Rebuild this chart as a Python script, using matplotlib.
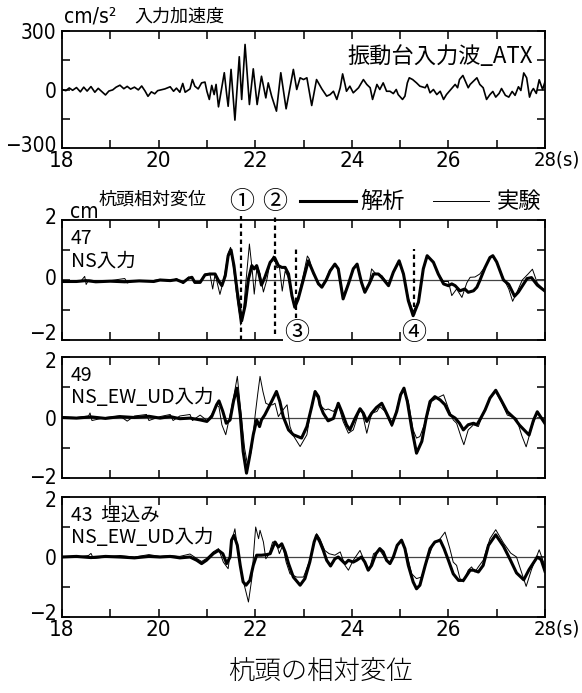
import matplotlib
matplotlib.use('Agg')
import matplotlib.pyplot as plt
import matplotlib.lines as mlines
from matplotlib import font_manager as fm
from matplotlib.transforms import ScaledTranslation

# ---- data ----
# input acceleration (cm/s2)
acc_t = [18.0, 18.08, 18.15, 18.22, 18.3, 18.38, 18.45, 18.52, 18.6, 18.68, 18.75, 18.82, 18.9, 18.97,
         19.05, 19.12, 19.2, 19.28, 19.35, 19.42, 19.5, 19.58, 19.65, 19.72, 19.78, 19.85, 19.92, 19.98,
         20.03, 20.13, 20.24, 20.31, 20.37, 20.44, 20.5, 20.55, 20.65, 20.7, 20.75, 20.82, 20.89, 20.96,
         21.0, 21.05, 21.1, 21.15, 21.19, 21.24, 21.31, 21.36, 21.41, 21.44, 21.5, 21.58, 21.67, 21.72,
         21.79, 21.88, 21.96, 22.04, 22.13, 22.22, 22.27, 22.34, 22.44, 22.53, 22.64, 22.79, 22.86, 22.93,
         23.0, 23.07, 23.17, 23.27, 23.38, 23.48, 23.55, 23.62, 23.69, 23.76, 23.81, 23.86, 23.89, 23.96,
         24.03, 24.14, 24.24, 24.31, 24.38, 24.43, 24.52, 24.58, 24.65, 24.72, 24.79, 24.86, 24.92, 24.96,
         25.05, 25.1, 25.15, 25.19, 25.26, 25.34, 25.41, 25.52, 25.56, 25.62, 25.69, 25.76, 25.83, 25.9,
         25.96, 26.05, 26.14, 26.19, 26.23, 26.3, 26.38, 26.41, 26.45, 26.52, 26.59, 26.65, 26.72, 26.79,
         26.86, 26.92, 26.98, 27.05, 27.1, 27.18, 27.25, 27.32, 27.38, 27.45, 27.5, 27.56, 27.62, 27.68,
         27.72, 27.76, 27.82, 27.88, 27.95, 28.0]
acc_v = [0, -6, 8, -4, 10, -12, 12, -8, 15, -14, 6, -10, -28, -8,
         -2, 12, 22, 4, 16, 2, 12, -2, 18, -8, -35, -12, -22, -6,
         -3, 3, 14, -9, 7, -14, 31, -14, 3, 51, 17, 3, 34, 38,
         -9, -51, 21, -26, 26, -89, 14, 86, -26, -86, 103, -157, 168, -51,
         231, -77, 106, -77, 68, -43, 34, -34, -111, 86, -99, 103, 0, 60,
         51, 60, -82, 51, 3, -34, -26, -9, -51, 9, 80, 26, -9, 17,
         -17, 9, 51, 26, 9, -51, 26, 0, 34, -9, -9, -21, 0, -26,
         -51, -34, 34, 60, 51, 34, 17, 9, 26, -17, 0, -26, -9, -51,
         -26, 0, 26, 9, 51, 72, 26, 9, 26, 43, 60, 26, 9, -51,
         -26, -10, -39, -20, 5, -30, -39, -10, -30, 14, -5, 85, 60, -39,
         -10, 5, -20, 50, 0, 40]

# pile-head relative displacement (cm): analysis (thick) / experiment (thin)
p47_ana_t = [18.0, 18.3, 18.5, 18.7, 19.0, 19.3, 19.6, 19.9, 20.03, 20.24, 20.37, 20.51, 20.62, 20.69,
             20.75, 20.86, 20.96, 21.06, 21.17, 21.24, 21.31, 21.38, 21.44, 21.5, 21.56, 21.63, 21.72,
             21.79, 21.86, 21.93, 21.98, 22.03, 22.08, 22.13, 22.2, 22.31, 22.4, 22.48, 22.55, 22.62,
             22.69, 22.76, 22.82, 22.89, 23.0, 23.1, 23.2, 23.31, 23.38, 23.47, 23.55, 23.65, 23.72,
             23.82, 23.93, 24.03, 24.11, 24.2, 24.27, 24.36, 24.45, 24.55, 24.62, 24.76, 24.86, 24.98,
             25.07, 25.17, 25.27, 25.38, 25.48, 25.56, 25.69, 25.79, 25.9, 26.0, 26.07, 26.14, 26.24,
             26.34, 26.41, 26.52, 26.59, 26.65, 26.76, 26.86, 26.92, 27.0, 27.14, 27.25, 27.37, 27.45,
             27.53, 27.63, 27.72, 27.84, 28.0]
p47_ana_v = [-0.05, -0.05, -0.02, -0.06, -0.04, -0.06, -0.03, -0.05, 0.0, -0.02, 0.01, -0.08, 0.06, 0.09,
             -0.08, -0.08, 0.17, 0.2, 0.2, -0.02, -0.19, 0.14, 0.81, 1.0, 0.48, -0.41, -1.36,
             -0.86, 0.03, 0.48, 0.37, 0.48, 0.2, -0.17, 0.09, 0.59, 0.75, 0.48, 0.42, 0.42,
             0.2, -0.52, -0.91, -0.63, 0.03, 0.64, 0.26, -0.13, -0.24, 0.0, 0.3, 0.53, 0.37,
             -0.63, -0.13, 0.37, 0.53, -0.08, -0.41, -0.13, 0.2, 0.2, 0.09, -0.19, 0.26, 0.64,
             0.2, -0.69, -1.19, -0.74, 0.37, 0.81, 0.59, 0.2, -0.13, -0.19, -0.13, -0.19, -0.36,
             -0.3, -0.41, -0.36, -0.24, -0.02, 0.42, 0.75, 0.81, 0.6, 0.0, -0.15, -0.54, -0.4,
             -0.2, 0.05, 0.08, -0.17, -0.37]
p47_exp_t = [18.0, 18.2, 18.4, 18.47, 18.5, 18.55, 18.8, 19.0, 19.3, 19.35, 19.5, 19.8, 20.03, 20.24,
             20.37, 20.51, 20.62, 20.69, 20.75, 20.86, 20.96, 21.06, 21.12, 21.17, 21.27, 21.33, 21.38,
             21.44, 21.49, 21.56, 21.63, 21.7, 21.75, 21.8, 21.88, 21.94, 21.98, 22.04, 22.1, 22.17,
             22.24, 22.31, 22.38, 22.45, 22.5, 22.56, 22.62, 22.68, 22.76, 22.82, 22.9, 23.0, 23.08,
             23.12, 23.2, 23.31, 23.38, 23.47, 23.55, 23.65, 23.72, 23.82, 23.93, 24.03, 24.11, 24.2,
             24.27, 24.36, 24.41, 24.5, 24.62, 24.76, 24.86, 24.98, 25.07, 25.17, 25.27, 25.38, 25.48,
             25.56, 25.69, 25.79, 25.9, 26.0, 26.07, 26.17, 26.28, 26.38, 26.45, 26.55, 26.65, 26.76,
             26.9, 27.0, 27.14, 27.25, 27.33, 27.42, 27.53, 27.65, 27.74, 27.84, 28.0]
p47_exp_v = [-0.03, -0.05, -0.02, 0.12, -0.15, 0.0, -0.04, -0.02, 0.05, -0.1, -0.02, -0.04, 0.02, -0.05,
             0.05, -0.12, 0.1, 0.05, -0.1, -0.05, 0.2, 0.22, -0.3, 0.2, -0.48, -0.1, 0.3,
             0.9, 1.09, 0.3, -0.7, -1.5, -1.2, -0.2, 1.2, 0.3, -0.47, 0.48, 0.2, -0.4,
             0.0, 0.6, 0.8, 0.4, 0.45, -0.37, 0.3, 0.1, -0.5, -0.85, -0.5, 0.2, 0.8,
             0.7, 0.2, -0.1, -0.2, 0.05, 0.35, 0.5, 0.4, -0.55, -0.1, 0.4, 0.5, -0.05,
             -0.38, -0.1, 0.37, 0.2, 0.15, -0.15, 0.25, 0.6, 0.2, -0.6, -1.05, -0.7, 0.35,
             0.78, 0.6, 0.2, -0.05, -0.05, -0.52, -0.3, -0.58, -0.1, 0.09, 0.1, 0.2, 0.45,
             0.8, 0.6, 0.05, -0.3, -0.71, -0.4, 0.0, 0.2, 0.36, -0.1, -0.37]

p49_ana_t = [18.0, 18.3, 18.6, 18.9, 19.2, 19.5, 19.8, 20.03, 20.24, 20.44, 20.65, 20.86, 21.0, 21.1,
             21.2, 21.25, 21.33, 21.4, 21.48, 21.55, 21.62, 21.69, 21.75, 21.82, 21.89, 21.96, 22.03,
             22.09, 22.13, 22.2, 22.27, 22.34, 22.44, 22.51, 22.58, 22.69, 22.79, 22.96, 23.07, 23.17,
             23.24, 23.31, 23.34, 23.41, 23.51, 23.62, 23.72, 23.79, 23.89, 23.96, 24.07, 24.17, 24.24,
             24.31, 24.41, 24.51, 24.62, 24.72, 24.83, 24.93, 25.01, 25.08, 25.15, 25.24, 25.34, 25.45,
             25.54, 25.62, 25.72, 25.83, 25.93, 26.03, 26.14, 26.23, 26.31, 26.41, 26.52, 26.59, 26.65,
             26.76, 26.86, 26.98, 27.1, 27.22, 27.37, 27.47, 27.67, 27.76, 27.84, 28.0]
p49_ana_v = [0.0, -0.02, 0.02, -0.03, 0.03, 0.0, 0.04, -0.02, 0.03, -0.04, -0.02, -0.08, -0.13, 0.03,
             0.42, 0.55, 0.2, -0.19, -0.08, 0.53, 0.97, 0.09, -1.12, -1.84, -1.24, -0.57, -0.08,
             -0.3, -0.08, 0.09, 0.31, 0.53, 0.86, 0.53, 0.03, -0.41, -0.57, -0.68, -0.3, 0.36,
             0.86, 0.69, 0.42, 0.14, -0.11, -0.03, 0.47, 0.2, -0.24, -0.41, -0.02, 0.29, 0.14,
             -0.13, 0.14, 0.33, 0.47, 0.14, -0.24, 0.2, 0.75, 0.97, 0.53, -0.35, -1.18, -0.79,
             -0.02, 0.53, 0.69, 0.58, 0.42, 0.09, -0.02, -0.19, -0.41, -0.24, -0.19, -0.24, -0.08,
             0.25, 0.64, 0.9, 0.55, 0.19, -0.03, -0.25, -0.58, -0.1, 0.19, -0.2]
p49_exp_t = [18.0, 18.3, 18.55, 18.58, 18.62, 18.9, 19.2, 19.35, 19.5, 19.75, 19.8, 20.03, 20.24, 20.3,
             20.44, 20.65, 20.7, 20.86, 21.0, 21.1, 21.2, 21.25, 21.31, 21.39, 21.48, 21.55, 21.63,
             21.71, 21.78, 21.84, 21.92, 22.0, 22.05, 22.1, 22.16, 22.22, 22.29, 22.36, 22.41, 22.48,
             22.55, 22.66, 22.72, 22.79, 22.93, 23.07, 23.17, 23.24, 23.31, 23.38, 23.45, 23.51, 23.62,
             23.72, 23.82, 23.93, 24.03, 24.14, 24.2, 24.31, 24.41, 24.52, 24.58, 24.69, 24.83, 25.0,
             25.08, 25.17, 25.27, 25.34, 25.41, 25.55, 25.65, 25.76, 25.9, 26.0, 26.1, 26.17, 26.27,
             26.32, 26.41, 26.52, 26.62, 26.72, 26.86, 26.98, 27.1, 27.22, 27.41, 27.52, 27.61, 27.71,
             27.84, 28.0]
p49_exp_v = [0.02, 0.0, 0.05, 0.15, -0.1, 0.0, 0.05, -0.12, 0.05, 0.1, -0.1, 0.03, 0.1, -0.1,
             0.05, 0.1, -0.1, 0.08, -0.1, 0.1, 0.42, 0.35, -0.24, -0.57, 0.09, 0.64, 1.36,
             0.09, -1.01, -1.56, -1.12, 0.09, 0.75, 1.36, 0.86, 0.47, 0.42, 0.42, 0.47, 0.03,
             0.2, 0.42, -0.3, -0.6, -0.96, -0.57, 0.42, 0.8, 0.58, 0.35, 0.25, 0.28, 0.2,
             0.42, -0.13, -0.52, -0.41, 0.14, 0.28, -0.52, 0.14, 0.2, 0.36, 0.2, -0.3, 0.7,
             0.91, 0.53, -0.41, -0.68, -0.63, -0.02, 0.53, 0.64, 0.75, 0.3, -0.08, -0.19, -0.68,
             -0.9, -0.41, -0.24, -0.3, 0.14, 0.64, 0.85, 0.5, 0.08, -0.03, -0.6, -0.97, -0.4,
             0.19, -0.15]

p43_ana_t = [18.0, 18.3, 18.6, 18.9, 19.2, 19.5, 19.8, 20.03, 20.24, 20.44, 20.65, 20.79, 20.89, 20.99,
             21.13, 21.24, 21.33, 21.41, 21.48, 21.51, 21.56, 21.63, 21.69, 21.75, 21.81, 21.89, 21.96,
             22.03, 22.13, 22.24, 22.31, 22.41, 22.48, 22.55, 22.62, 22.69, 22.79, 22.93, 23.03, 23.13,
             23.22, 23.27, 23.34, 23.41, 23.48, 23.56, 23.65, 23.72, 23.79, 23.86, 23.93, 24.03, 24.1,
             24.2, 24.27, 24.34, 24.41, 24.5, 24.58, 24.65, 24.72, 24.79, 24.86, 24.94, 25.03, 25.1,
             25.17, 25.27, 25.34, 25.41, 25.52, 25.62, 25.72, 25.83, 25.91, 26.0, 26.1, 26.21, 26.31,
             26.38, 26.45, 26.52, 26.62, 26.72, 26.83, 26.98, 27.14, 27.28, 27.41, 27.56, 27.67, 27.84,
             27.92, 28.0]
p43_ana_v = [0.0, 0.02, -0.02, 0.02, 0.0, -0.03, 0.02, 0.0, 0.02, -0.03, 0.0, -0.11, -0.22, -0.11,
             0.11, 0.22, 0.11, -0.22, 0.0, 0.56, 0.72, 0.39, -0.28, -0.83, -0.94, -0.78, -0.28,
             0.06, 0.06, 0.08, 0.11, 0.5, 0.33, 0.44, 0.17, -0.22, -0.67, -0.94, -0.72, -0.17,
             0.5, 0.72, 0.5, 0.22, -0.11, -0.3, -0.06, 0.0, -0.11, -0.22, -0.11, -0.17, -0.11,
             0.0, -0.17, -0.44, -0.28, 0.11, 0.28, 0.17, -0.11, -0.22, 0.0, 0.39, 0.56, 0.28,
             -0.28, -0.83, -1.06, -0.94, -0.28, 0.28, 0.5, 0.56, 0.28, -0.11, -0.56, -0.78, -0.78,
             -0.61, -0.44, -0.44, -0.5, -0.28, 0.39, 0.74, 0.36, -0.09, -0.53, -0.76, -0.42, 0.0,
             -0.09, -0.48]
p43_exp_t = [18.0, 18.3, 18.55, 18.6, 18.65, 18.9, 19.2, 19.5, 19.8, 20.03, 20.24, 20.44, 20.65, 20.79,
             20.89, 20.99, 21.13, 21.24, 21.34, 21.44, 21.51, 21.58, 21.65, 21.74, 21.81, 21.86, 21.93,
             21.98, 22.01, 22.07, 22.1, 22.17, 22.22, 22.29, 22.36, 22.43, 22.5, 22.57, 22.64, 22.72,
             22.86, 23.0, 23.13, 23.27, 23.34, 23.44, 23.53, 23.65, 23.76, 23.86, 23.93, 24.03, 24.17,
             24.27, 24.36, 24.45, 24.58, 24.72, 24.8, 24.96, 25.03, 25.14, 25.24, 25.34, 25.44, 25.55,
             25.69, 25.83, 25.93, 26.03, 26.1, 26.17, 26.24, 26.31, 26.41, 26.48, 26.55, 26.62, 26.72,
             26.86, 26.98, 27.14, 27.29, 27.41, 27.61, 27.72, 27.88, 28.0]
p43_exp_v = [0.02, 0.0, 0.05, 0.12, -0.05, 0.0, 0.05, 0.0, 0.08, 0.02, 0.05, 0.02, 0.1, -0.05,
             -0.15, -0.05, 0.17, 0.28, -0.17, -0.39, 0.5, 0.94, 0.06, -0.72, -1.17, -1.5, -0.72,
             0.39, 1.0, 0.61, 0.89, 0.5, -0.06, 0.11, 0.5, 0.5, 0.11, 0.39, -0.17, -0.56,
             -0.67, -0.67, -0.11, 0.78, 0.61, 0.22, 0.11, 0.06, 0.17, -0.28, -0.44, -0.11, 0.22,
             -0.17, -0.44, 0.11, 0.22, -0.11, -0.22, 0.44, 0.59, 0.11, -0.56, -0.72, -0.67, -0.17,
             0.44, 0.61, 0.83, 0.28, -0.17, -0.28, -0.72, -0.83, -0.44, -0.33, -0.5, -0.33, -0.11,
             0.61, 0.91, 0.47, 0.13, 0.0, -0.98, -0.42, 0.24, -0.31]

panels = [
    ('47\nNS入力', p47_ana_t, p47_ana_v, p47_exp_t, p47_exp_v),
    ('49\nNS_EW_UD入力', p49_ana_t, p49_ana_v, p49_exp_t, p49_exp_v),
    ('43  埋込み\nNS_EW_UD入力', p43_ana_t, p43_ana_v, p43_exp_t, p43_exp_v),
]

# marker times on the 47 panel
mark_t = [21.71, 22.41, 22.85, 25.29]


# narrow font for numbers if one is installed
def narrow_font():
    best = None
    for f in fm.fontManager.ttflist:
        if f.style != 'normal' or f.weight not in (400, 'normal', 'regular', 'book'):
            continue
        if f.name == 'Liberation Sans Narrow':
            return f.fname
        if f.name == 'DejaVu Sans' and str(f.stretch) in ('condensed', 'semi-condensed', '300', '400'):
            best = f.fname
    return best


_nf = narrow_font()
JP = ['Noto Sans CJK JP', 'DejaVu Sans']


def num(size):
    if _nf:
        return fm.FontProperties(fname=_nf, size=size)
    return fm.FontProperties(family='DejaVu Sans', size=size)


W, H = 582, 693
fig = plt.figure(figsize=(W / 100, H / 100), dpi=100)
L, R = 62, 545


def px_axes(top, bot):
    return fig.add_axes([L / W, 1 - bot / H, (R - L) / W, (bot - top) / H])


def style(ax, ylim, yt, ylabels, minor, xlabels, lifts=(0, 0, 0)):
    ax.set_xlim(18, 28)
    ax.set_ylim(*ylim)
    for s in ax.spines.values():
        s.set_linewidth(1.3)
    ax.set_xticks(range(18, 29))
    ax.set_yticks(yt)
    ax.set_yticks(minor, minor=True)
    ax.tick_params(which='both', direction='in', top=True, right=True, length=6, width=1.1, pad=2)
    ax.tick_params(axis='y', pad=4)
    ax.set_yticklabels(ylabels, fontproperties=num(15))
    # nudge single labels up/down (pixels) like the reference
    for lb, d in zip(ax.get_yticklabels(), lifts):
        lb.set_transform(lb.get_transform() + ScaledTranslation(0, d / 100, fig.dpi_scale_trans))
    if xlabels:
        labs = [str(v) if v % 2 == 0 and v < 28 else '' for v in range(18, 29)]
        ax.set_xticklabels(labs, fontproperties=num(16))
        ax.annotate('28(s)', xy=(28, 0), xycoords=('data', 'axes fraction'), xytext=(-8.5, -2),
                    textcoords='offset points', ha='left', va='top', fontproperties=num(14.5))
    else:
        ax.set_xticklabels([])


# ---- top: input acceleration ----
ax0 = px_axes(31, 148)
ax0.plot(acc_t, acc_v, color='black', lw=1.2)
style(ax0, (-300, 300), [-300, 0, 300], ['−300', '0', '300'], [-150, 150], True, lifts=(4, 0, 0))
ax0.text(0.975, 0.78, '振動台入力波_ATX', transform=ax0.transAxes, ha='right', va='center',
         family=JP, fontsize=16)
fig.text(64 / W, 1 - 17 / H, 'cm/s²', fontproperties=num(15), va='center')
fig.text(134 / W, 1 - 17 / H, '入力加速度', family=JP, fontsize=13, va='center')

# ---- displacement panels ----
boxes = [(220, 340), (357, 478), (497, 617)]
label_lifts = [(8, 3, 4), (2, 0, -3), (5, 0, -2)]
axes = []
for i, (lab, at, av, et, ev) in enumerate(panels):
    ax = px_axes(*boxes[i])
    ax.axhline(0, color='#444444', lw=0.9)
    ax.plot(et, ev, color='black', lw=0.7)
    ax.plot(at, av, color='black', lw=2.2)
    style(ax, (-2, 2), [-2, 0, 2], ['−2', '0', '2'], [-1, 1], i == 2, lifts=label_lifts[i])
    ax.text(0.018, 0.93, lab, transform=ax.transAxes, ha='left', va='top', family=JP,
            fontsize=14, linespacing=1.05)
    axes.append(ax)

ax1 = axes[0]
# dashed markers
dash = dict(color='black', lw=1.6, ls=(0, (2, 1.6)), clip_on=False)
ax1.plot([mark_t[0]] * 2, [-2, 2.35], **dash)
ax1.plot([mark_t[1]] * 2, [-1.8, 2.35], **dash)
ax1.plot([mark_t[2]] * 2, [-1.25, 1.1], **dash)
ax1.plot([mark_t[3]] * 2, [-1.15, 1.05], **dash)
for t, y, s in zip(mark_t, [2.6, 2.6, -1.75, -1.75], ['①', '②', '③', '④']):
    ax1.text(t, y, s, ha='center', va='center', family=JP, fontsize=18, clip_on=False,
             bbox=dict(boxstyle='square,pad=0.02', fc='white', ec='none'), zorder=5)

fig.text(70 / W, 1 - 212 / H, 'cm', fontproperties=num(15), va='center')
fig.text(99 / W, 1 - 200 / H, '杭頭相対変位', family=JP, fontsize=13, va='center')
fig.add_artist(mlines.Line2D([300 / W, 356 / W], [1 - 201 / H] * 2, color='black', lw=2.2))
fig.text(360 / W, 1 - 201 / H, '解析', family=JP, fontsize=16, va='center')
fig.add_artist(mlines.Line2D([433 / W, 489 / W], [1 - 201 / H] * 2, color='black', lw=0.7))
fig.text(497 / W, 1 - 201 / H, '実験', family=JP, fontsize=16, va='center')

fig.text(320 / W, 1 - 672 / H, '杭頭の相対変位', family=JP, fontsize=19, ha='center',
         va='center', weight='light')

fig.savefig('out.png', dpi=100)
